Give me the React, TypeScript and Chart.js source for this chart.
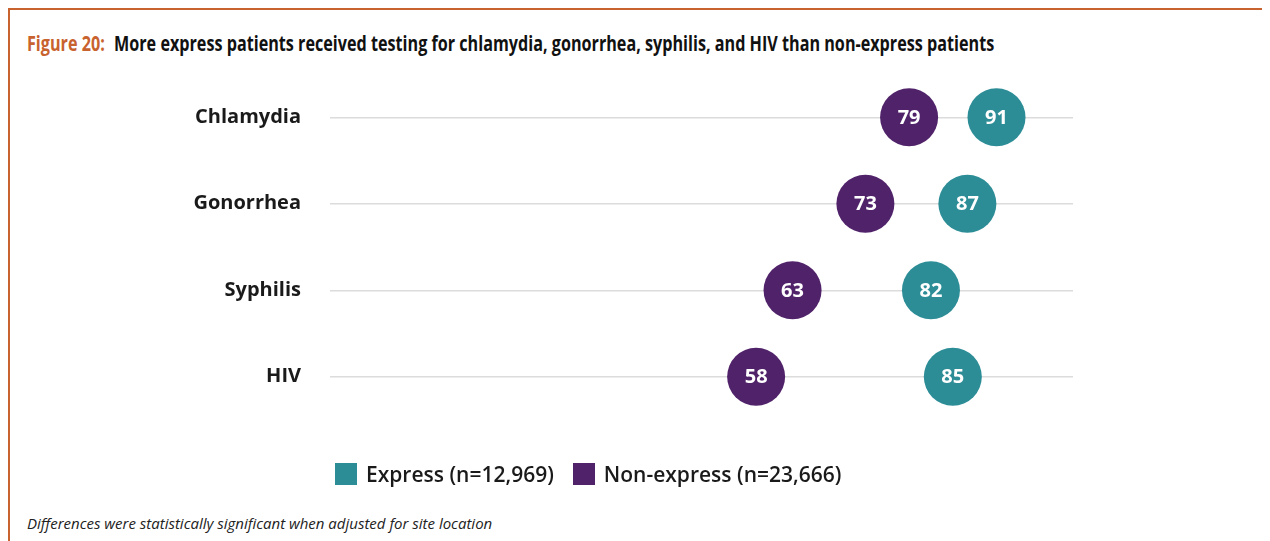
import React, { useEffect, useRef } from "react";
import { Chart, registerables } from "chart.js";

Chart.register(...registerables);

const categories = ["Chlamydia", "Gonorrhea", "Syphilis", "HIV"];
const expressValues = [91, 87, 82, 85];
const nonExpressValues = [79, 73, 63, 58];
const expressLabel = "Express (n=12,969)";
const nonExpressLabel = "Non-express (n=23,666)";

const TEAL = "#2C8D97";
const PURPLE = "#50226A";
const ORANGE = "#C8622E";

const valueLabels = {
  id: "valueLabels",
  afterDatasetsDraw(chart: any) {
    const ctx = chart.ctx;
    ctx.save();
    ctx.fillStyle = "#ffffff";
    ctx.font = "bold 20px 'Open Sans'";
    ctx.textAlign = "center";
    ctx.textBaseline = "middle";
    chart.data.datasets.forEach((ds: any, i: number) => {
      const meta = chart.getDatasetMeta(i);
      meta.data.forEach((el: any, j: number) => {
        ctx.fillText(String(ds.data[j].x), el.x, el.y + 1);
      });
    });
    ctx.restore();
  },
};

export default function App() {
  const ref = useRef<HTMLCanvasElement | null>(null);

  useEffect(() => {
    if (!ref.current) return;
    const chart = new Chart(ref.current, {
      type: "bubble",
      data: {
        labels: categories,
        datasets: [
          {
            label: nonExpressLabel,
            data: categories.map((c, i) => ({ x: nonExpressValues[i], y: c, r: 29 })),
            backgroundColor: PURPLE,
            borderWidth: 0,
          },
          {
            label: expressLabel,
            data: categories.map((c, i) => ({ x: expressValues[i], y: c, r: 29 })),
            backgroundColor: TEAL,
            borderWidth: 0,
          },
        ],
      },
      options: {
        animation: false,
        responsive: false,
        maintainAspectRatio: false,
        layout: { autoPadding: false, padding: { left: 0, right: 189, top: 66, bottom: 28 } },
        plugins: {
          legend: { display: false },
          tooltip: { enabled: false },
          title: { display: false },
        },
        scales: {
          x: {
            type: "linear",
            min: -0.5,
            max: 101.5,
            display: false,
          },
          y: {
            type: "category",
            labels: categories,
            offset: true,
            grid: {
              offset: false,
              color: "#DCDCDC",
              lineWidth: 1.5,
              drawTicks: false,
            },
            border: { display: false },
            ticks: {
              padding: 29,
              color: "#1a1a1a",
              font: { family: "'Open Sans'", size: 20, weight: "bold" },
            },
            afterFit(scale: any) {
              scale.width = 322;
            },
          },
        },
      },
      plugins: [valueLabels],
    } as any);
    return () => chart.destroy();
  }, []);

  const legendItem = (color: string, text: string, mr: number) => (
    <div style={{ display: "flex", alignItems: "center", marginRight: mr }}>
      <div style={{ width: 22, height: 22, background: color, marginRight: 9 }} />
      <span>{text}</span>
    </div>
  );

  return (
    <div
      style={{
        position: "relative",
        width: 1254,
        height: 533,
        borderTop: `2px solid ${ORANGE}`,
        borderLeft: `2px solid ${ORANGE}`,
        boxSizing: "border-box",
        fontFamily: "'Open Sans', sans-serif",
      }}
    >
      <div
        style={{
          position: "absolute",
          left: 17,
          top: 19,
          fontFamily: "'Open Sans', sans-serif",
          fontWeight: "bold",
          fontSize: 21,
          color: "#111",
          whiteSpace: "nowrap",
          transform: "scaleX(0.77)",
          transformOrigin: "left center",
        }}
      >
        <span style={{ color: ORANGE }}>Figure 20:</span>
        <span style={{ marginLeft: 12 }}>
          More express patients received testing for chlamydia, gonorrhea, syphilis, and HIV than non-express patients
        </span>
      </div>
      <canvas
        ref={ref}
        width={1254}
        height={453}
        style={{ position: "absolute", left: -2, top: -2, width: 1254, height: 453 }}
      />
      <div
        style={{
          position: "absolute",
          left: 325,
          top: 450,
          display: "flex",
          fontSize: 21,
          fontWeight: 600,
          color: "#1a1a1a",
          whiteSpace: "nowrap",
        }}
      >
        {legendItem(TEAL, expressLabel, 19)}
        {legendItem(PURPLE, nonExpressLabel, 0)}
      </div>
      <div
        style={{
          position: "absolute",
          left: 17,
          top: 503,
          fontStyle: "italic",
          fontSize: 15,
          color: "#222",
          whiteSpace: "nowrap",
        }}
      >
        Differences were statistically significant when adjusted for site location
      </div>
    </div>
  );
}
